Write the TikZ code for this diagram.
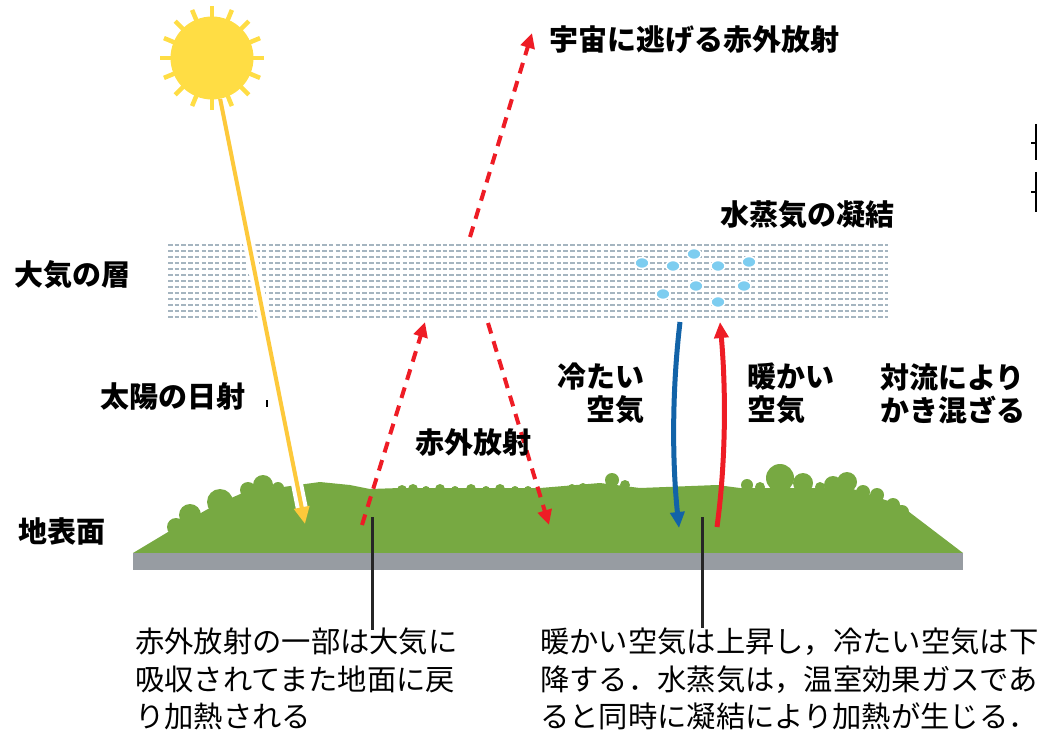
\documentclass[tikz,border=0pt]{standalone}
\usepackage{fontspec}
\setmainfont{Noto Sans CJK JP}
\usetikzlibrary{arrows.meta}

\definecolor{sunfill}{HTML}{FFDD44}
\definecolor{sunbeam}{HTML}{FDC93B}
\definecolor{irred}{HTML}{EE1C25}
\definecolor{coolblue}{HTML}{1263A8}
\definecolor{grass}{HTML}{77A942}
\definecolor{soil}{HTML}{979CA2}
\definecolor{airdash}{HTML}{A5B5C0}
\definecolor{drop}{HTML}{7DCDF0}

\begin{document}
\begin{tikzpicture}[x=1pt,y=-1pt,
  lbl/.style={font=\bfseries\fontsize{29}{33}\selectfont, inner sep=0pt, anchor=west},
  note/.style={font=\fontsize{29.3}{37.5}\selectfont, inner sep=0pt, anchor=north west, align=left},
  irflow/.style={draw=irred, line width=4pt, dash pattern=on 11pt off 8pt,
    -{Triangle[length=15pt,width=14pt]}},
  convflow/.style={line width=5pt, -{Triangle[length=16pt,width=14pt]}},
  sunray/.style={draw=sunfill, line width=4.5pt},
  leader/.style={draw=black!85, line width=3pt},
  droplet/.style={draw=white, line width=1.5pt, fill=drop},
]
\useasboundingbox (0,0) rectangle (1038,735);

% atmosphere layer: rows of short dashes
\foreach \i in {0,...,12}
  \draw[airdash, line width=2.3pt, dash pattern=on 4.5pt off 2.2pt]
    (168,245+6*\i) -- (888,245+6*\i);

% condensing water droplets
\foreach \px/\py in {642/263,673/266,694/254,718/266,749/262,663/294,696/286,744/286,718/302}
  \draw[droplet] (\px,\py) ellipse [x radius=7, y radius=5.5];

% sun
\node[circle, fill=sunfill, minimum size=83pt, inner sep=0pt] (sun) at (212,58) {};
\foreach \a in {0,22.5,...,337.5}
  \draw[sunray] (sun.center) ++(\a:39) -- ++(\a:13);

% ground
\fill[grass] (133,553) -- (168,532) -- (185,522) -- (215,505) -- (245,492) -- (283,487)
  -- (320,482) -- (350,485) -- (370,489) -- (400,488) -- (540,488) -- (600,483)
  -- (640,488) -- (717,485) -- (740,488) -- (850,488) -- (900,505) -- (963,553) -- cycle;
\foreach \cx/\cy/\r in {176/527/9,190/515/11,220/502/13,248/490/8,263/485/10,278/488/6,
  402/490/5,413/489/5,426/490/4,440/489/5,455/490/4,471/489/5,486/490/4,500/489/5,515/490/4,528/490/4,
  572/488/4,583/487/4,612/480/7,625/485/5,747/485/6,760/487/5,780/478/14,803/483/10,820/487/5,
  833/485/9,847/482/10,863/492/7,877/495/7,893/505/7,902/512/7}
  \fill[grass] (\cx,\cy) circle [radius=\r];
\fill[soil] (133,553) rectangle (963,570);

% end points on the ground and at the atmosphere
\coordinate (beamEnd) at (305,524);
\coordinate (irUpStart) at (362,525);
\coordinate (irUpEnd) at (425,322);
\coordinate (irDownStart) at (488,323);
\coordinate (irDownEnd) at (549,525);
\coordinate (irOutStart) at (470,237);
\coordinate (irOutEnd) at (532,33);
\coordinate (coolTop) at (680,322);
\coordinate (coolBottom) at (679,528);
\coordinate (warmBottom) at (717,527);
\coordinate (warmTop) at (720,322);

% solar radiation
\draw[white, line width=12pt, shorten >=14pt] (sun) -- (beamEnd);
\draw[draw=sunbeam, line width=4pt, -{Triangle[length=17pt,width=15pt]}] (sun) -- (beamEnd);

% infrared radiation
\draw[irflow] (irOutStart) -- (irOutEnd);
\draw[irflow] (irUpStart) -- (irUpEnd);
\draw[irflow] (irDownStart) -- (irDownEnd);

% convection
\draw[convflow, draw=coolblue] (coolTop) .. controls (672,390) and (672,460) .. (coolBottom);
\draw[convflow, draw=irred] (warmBottom) .. controls (726,460) and (726,390) .. (warmTop);

% leader lines to the notes
\coordinate (leadA) at (372,517);
\coordinate (leadAend) at (372,630);
\coordinate (leadB) at (702,517);
\coordinate (leadBend) at (702,628);
\draw[leader] (leadA) -- (leadAend);
\draw[leader] (leadB) -- (leadBend);

% small marks
\draw[black, line width=1.8pt] (1036,124) -- (1036,160);
\draw[black, line width=1.8pt] (1031,143) -- (1036,143);
\draw[black, line width=1.8pt] (1036,172) -- (1036,212);
\draw[black, line width=1.8pt] (1031,192) -- (1036,192);
\draw[black, line width=1.2pt] (267,400) -- (267,407);

% labels
\node[lbl] (tSpace) at (549,40) {宇宙に逃げる赤外放射};
\node[lbl] (tCond) at (720,215) {水蒸気の凝結};
\node[lbl] (tAtm) at (14,275) {大気の層};
\node[lbl] (tSolar) at (100,396) {太陽の日射};
\node[lbl] (tIR) at (415,443) {赤外放射};
\node[lbl, anchor=east, align=right] (tCool) at (645,393.5) {冷たい\\空気};
\node[lbl, align=left] (tWarm) at (747,393.5) {暖かい\\空気};
\node[lbl, align=left] (tConv) at (880,393.5) {対流により\\かき混ざる};
\node[lbl] (tGround) at (18,531) {地表面};

% notes
\node[note] (noteA) at (135,628) {赤外放射の一部は大気に\\吸収されてまた地面に戻\\り加熱される};
\node[note] (noteB) at (540,628) {暖かい空気は上昇し，冷たい空気は下\\降する．水蒸気は，温室効果ガスであ\\ると同時に凝結により加熱が生じる．};
\end{tikzpicture}
\end{document}
